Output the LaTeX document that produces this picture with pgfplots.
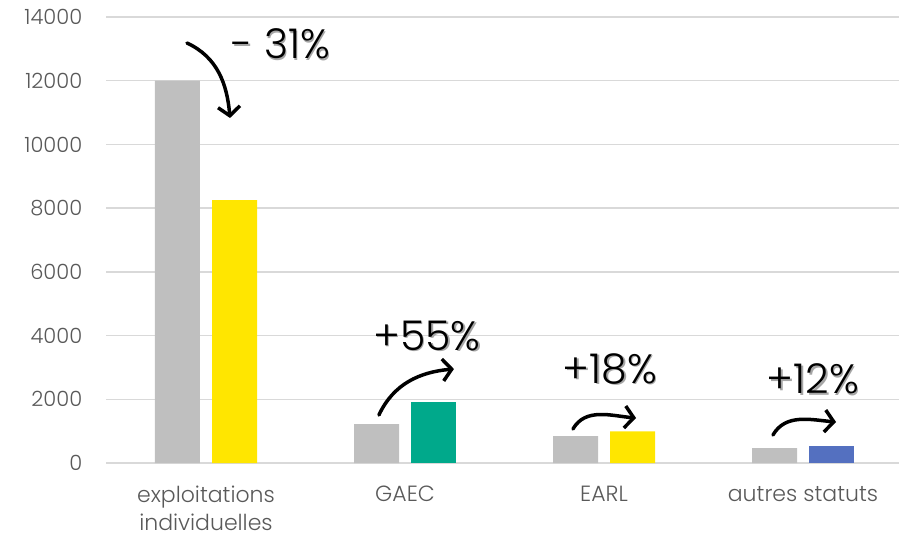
\documentclass[border=0pt]{standalone}
\usepackage{fontspec}
\setmainfont{Poppins Light}
\usepackage{pgfplots}
\pgfplotsset{compat=1.18}
\usetikzlibrary{arrows.meta}
\definecolor{barGray}{HTML}{BFBFBF}
\definecolor{barYellow}{HTML}{FFE600}
\definecolor{barTeal}{HTML}{00A98B}
\definecolor{barBlue}{HTML}{5470C0}
\definecolor{gridGray}{HTML}{D9D9D9}
\definecolor{labGray}{HTML}{595959}
\newcommand\pctfont{\fontsize{41}{42}\selectfont}
\newcommand\shtext[2]{%
  \node[text=black!35, font=\pctfont, inner sep=0pt] at ([xshift=1.5pt,yshift=-1.5pt]#1) {#2};
  \node[text=black, font=\pctfont, inner sep=0pt] at (#1) {#2};}
\begin{document}
\begin{tikzpicture}
\path[use as bounding box] (-106.5pt,-73pt) rectangle (792.5pt,463pt);
\begin{axis}[
  scale only axis, width=796pt, height=446pt,
  xmin=-0.5, xmax=3.5, ymin=0, ymax=14000,
  axis line style={draw=none},
  tick style={draw=none},
  major tick length=0pt,
  ytick={0,2000,4000,6000,8000,10000,12000,14000},
  ymajorgrids, grid style={gridGray, line width=1.5pt},
  xtick={0,1,2,3},
  xticklabels={exploitations\\individuelles, GAEC, EARL, autres statuts},
  yticklabel style={font=\fontsize{21}{30}\selectfont, text=labGray},
  xticklabel style={font=\fontsize{22}{28}\selectfont, text=labGray},
  /pgf/number format/assume math mode=true,
  /pgf/number format/1000 sep={},
  scaled y ticks=false,
  yticklabel style={anchor=east, inner sep=0pt, xshift=-24pt},
  xticklabel style={anchor=north, align=center, inner sep=0pt, yshift=-23pt},
  clip=false,
]
\addplot[ybar, fill=barGray, draw=none, bar width=45pt, bar shift=-28.5pt] coordinates {(0,12000) (1,1220) (2,840) (3,470)};
\addplot[ybar, fill=barYellow, draw=none, bar width=45pt, bar shift=28.5pt] coordinates {(0,8250) (2,995)};
\addplot[ybar, fill=barTeal, draw=none, bar width=45pt, bar shift=28.5pt] coordinates {(1,1905)};
\addplot[ybar, fill=barBlue, draw=none, bar width=45pt, bar shift=28.5pt] coordinates {(3,525)};
\begin{scope}[line width=3.5pt, line cap=round, -{Straight Barb[length=9pt,width=22pt]}]
\draw (axis cs:-0.0955,13184) to[out=-25,in=95] (axis cs:0.1206,10830);
\draw (axis cs:0.869,1507) to[out=65,in=185] (axis cs:1.246,2951);
\draw (axis cs:1.844,1067) to[out=60,in=175] (axis cs:2.161,1413);
\draw (axis cs:2.849,879) to[out=60,in=175] (axis cs:3.166,1287);
\end{scope}
\shtext{axis cs:0.377,13153}{- 31\%}
\shtext{axis cs:1.111,3987}{+55\%}
\shtext{axis cs:2.030,2951}{+18\%}
\shtext{axis cs:3.050,2637}{+12\%}
\end{axis}
\end{tikzpicture}
\end{document}
